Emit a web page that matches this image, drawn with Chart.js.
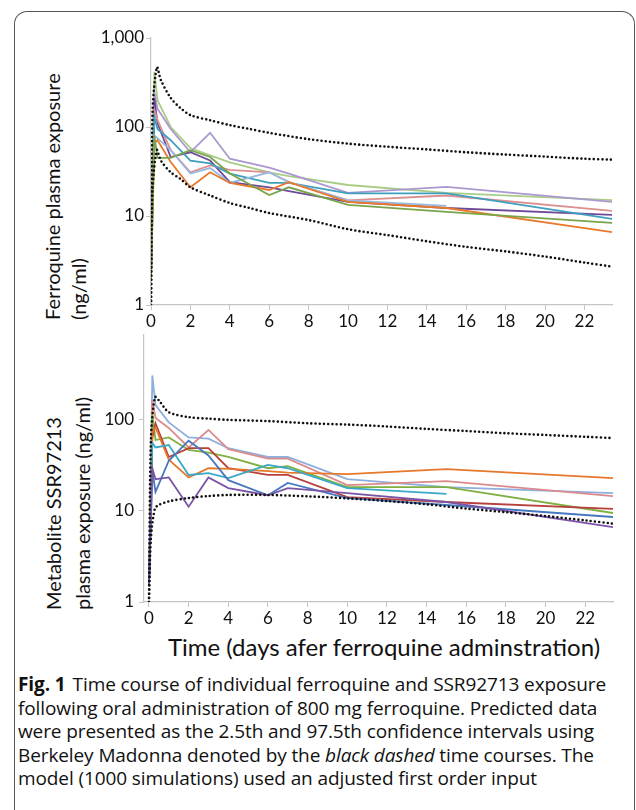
<!DOCTYPE html>
<html>
<head>
<meta charset="utf-8">
<script src="https://cdn.jsdelivr.net/npm/chart.js@4.4.1/dist/chart.umd.min.js"></script>
<style>
    body { margin: 0; width: 636px; height: 810px; overflow: hidden; background: #fff; font-family: Lato, sans-serif; color: #111; }
    #frame { position: absolute; left: 14px; top: 11px; width: 619px; height: 830px; border: 1.5px solid #555; border-bottom: none; border-radius: 13px 13px 0 0; }
    .cv { position: absolute; left: 0; }
    .ytitle { position: absolute; writing-mode: vertical-rl; transform: rotate(180deg); font-size: 20px; text-align: start; white-space: nowrap; }
    #xtitle { position: absolute; left: 0; width: 768px; top: 632px; text-align: center; font-size: 24px; white-space: nowrap; }
    #caption { position: absolute; left: 18px; top: 673px; font-family: "Open Sans", sans-serif; font-size: 19px; line-height: 23.5px; white-space: nowrap; letter-spacing: -0.1px; }
    #caption b { font-weight: 700; margin-right: 7px; }
</style>
</head>
<body>
<div id="frame"></div>

<div class="ytitle" style="left:39px; top:40px; height:280px; line-height:26px;">Ferroquine plasma exposure<br>(ng/ml)</div>
<div class="ytitle" style="left:39px; top:330px; height:280px; line-height:29px;">Metabolite SSR97213<br>plasma exposure (ng/ml)</div>

<canvas id="topChart" class="cv" style="top:0;" width="636" height="330"></canvas>
<canvas id="bottomChart" class="cv" style="top:310px;" width="636" height="320"></canvas>

<div id="xtitle">Time (days afer ferroquine adminstration)</div>
<div id="caption">
    <b>Fig. 1</b>Time course of individual ferroquine and SSR92713 exposure<br>
    following oral administration of 800 mg ferroquine. Predicted data<br>
    were presented as the 2.5th and 97.5th confidence intervals using<br>
    Berkeley Madonna denoted by the <i>black dashed</i> time courses. The<br>
    model (1000 simulations) used an adjusted first order input
</div>

<script>
// sampling times (days) of the individual profiles
const DAYS = [0, 0.17, 0.33, 1, 2, 3, 4, 6, 7, 10, 15, 23.4];

// ferroquine, individual patients (ng/ml)
const fqLightGreen = [6, 415, 200, 100, 58, 48, 40, 31, 28, 22.3, 18.2, 15.1];
const fqLavender   = [2.5, 246, 160, 95, 52, 86, 44, 35, 30, 18.2, 21.2, 14.4];
const fqPurple     = [2, 210, 110, 46, 52, 42, 24, 21, 19, 14.4, 12.3, 10.3];
const fqSalmon     = [2, 155, 120, 55, 31, 37, 33, 31, 24, 15, 17, 11.4];
const fqTeal       = [2, 130, 95, 71, 42, 39, 30, 23.5, 23.5, 18, 18, 9.3];
const fqLightBlue  = [2, 80, 75, 55, 30, 34.6, 23.5, 31, 24, 15, 13, null];
const fqOrange     = [2, 66, 71, 40.5, 21, 31, 23.5, 19.6, 24, 14.4, 12.3, 6.6];
const fqGreen      = [2, 80, 45, 45, 55, 46, 30, 17.2, 21, 13.3, 11.1, 8.35];

// metabolite SSR97213, individual patients (ng/ml)
const mLightBlue = [1.5, 300, 142, 92, 63, 61, 48, 38.5, 38.5, 22, 18, 15.5];
const mSalmon    = [1.5, 161, 103, 80, 49, 76, 47, 37, 37, 19, 21, 14.4];
const mGreen     = [1.5, 116, 59, 63, 46, 43, 38.5, 29, 30.6, 18, 18, 9.4];
const mRed       = [1.5, 62, 90, 38.5, 48, 48, 29, 24.5, 24.5, 14, 12.4, 10.4];
const mOrange    = [1.5, 72, 81, 36, 23, 29, 28.5, 27, 26, 25, 28.4, 22.6];
const mTeal      = [1.5, 55, 49, 52, 24.5, 25.6, 22.6, 31.5, 29, 17.6, 15.2, null];
const mBlue      = [1.5, 27.6, 16, 35, 58, 40, 21.5, 14.7, 20, 13.7, 11.5, 8.5];
const mPurple    = [1.5, 29, 22, 23, 11, 23, 17.6, 14.7, 17.6, 15.5, 12.4, 6.6];

// Berkeley Madonna 2.5th / 97.5th percentile curves
const ciDaysTop = [0, 0.08, 0.3, 0.5, 1, 1.5, 2, 3, 4, 5, 6, 8, 10, 12, 14, 16, 18, 20, 22, 23.4];
const fqUpper   = [1, 150, 470, 337, 212, 163, 136, 119, 105, 95, 86, 73, 65, 60, 56, 52, 49, 46.5, 44, 43];
const fqLower   = [1, 20, 55, 42, 31, 26, 21, 17, 14, 12.3, 10.8, 9.0, 7.1, 6.1, 5.2, 4.5, 4.0, 3.5, 3.0, 2.7];

const ciDaysBottom = [0, 0.1, 0.3, 0.5, 1, 2, 3, 4, 6, 8, 10, 12, 14, 16, 18, 20, 22, 23.4];
const mUpper       = [1, 60, 174, 160, 119, 105, 101, 98, 95, 90, 87, 83, 78, 74, 70, 67, 64, 62];
const mLower       = [1, 5, 10.5, 11.5, 12.6, 13.7, 14.4, 14.8, 14.8, 14.3, 13.6, 12.7, 11.7, 10.5, 9.6, 8.7, 7.8, 7.2];

// axis ticks
const X_TICKS = [0, 2, 4, 6, 8, 10, 12, 14, 16, 18, 20, 22];
const Y_TICKS_TOP = [1, 10, 100, 1000];
const Y_TICKS_BOTTOM = [1, 10, 100];

const toPoints = (xs, ys) => xs.map((x, i) => ({ x: x, y: ys[i] }));

function patient(values, color) {
    return {
        data: toPoints(DAYS, values),
        borderColor: color,
        borderWidth: 1.8,
        pointRadius: 0,
        tension: 0
    };
}

function dotted(xs, values) {
    return {
        data: toPoints(xs, values),
        borderColor: '#111',
        borderWidth: 2.6,
        borderDash: [0, 4.2],
        borderCapStyle: 'round',
        pointRadius: 0,
        tension: 0.3
    };
}

function makeOptions(o) {
    const axisGrey = '#c4c4c4';
    return {
        responsive: false,
        animation: false,
        layout: { padding: { left: 0, right: o.padRight, top: o.padTop, bottom: 0 } },
        plugins: { legend: { display: false }, tooltip: { enabled: false } },
        scales: {
            x: {
                type: 'linear',
                min: o.xMin,
                max: 23.4,
                afterBuildTicks: (axis) => { axis.ticks = X_TICKS.map(v => ({ value: v })); },
                afterFit: (axis) => { axis.height = o.xHeight; },
                border: { display: true, color: axisGrey, width: 1.2 },
                grid: { drawOnChartArea: false, drawTicks: true, tickLength: 5, color: axisGrey },
                ticks: { color: '#111', font: { family: 'Lato', size: 17 }, padding: 1, maxRotation: 0, autoSkip: false }
            },
            y: {
                type: 'logarithmic',
                min: 1,
                max: o.yMax,
                afterBuildTicks: (axis) => { axis.ticks = o.yTicks.map(v => ({ value: v, major: true })); },
                afterFit: (axis) => { axis.width = o.yWidth; },
                border: { display: true, color: axisGrey, width: 1.2 },
                grid: { drawOnChartArea: false, drawTicks: true, tickLength: 5, color: axisGrey },
                ticks: {
                    color: '#111',
                    font: { family: 'Lato', size: 17 },
                    padding: o.yPad,
                    callback: (v) => Number(v).toLocaleString('en-US')
                }
            }
        }
    };
}

new Chart(document.getElementById('topChart'), {
    type: 'line',
    data: {
        datasets: [
            dotted(ciDaysTop, fqUpper),
            dotted(ciDaysTop, fqLower),
            patient(fqGreen, '#79a54a'),
            patient(fqOrange, '#e9792a'),
            patient(fqLightBlue, '#97b8e0'),
            patient(fqTeal, '#3f9fbf'),
            patient(fqSalmon, '#dc8f8f'),
            patient(fqPurple, '#6f4a99'),
            patient(fqLavender, '#ab98cf'),
            patient(fqLightGreen, '#a9cd86')
        ]
    },
    options: makeOptions({ padRight: 24, padTop: 38, xMin: 0, xHeight: 25, yWidth: 151, yMax: 1000, yTicks: Y_TICKS_TOP, yPad: 2 })
});

new Chart(document.getElementById('bottomChart'), {
    type: 'line',
    data: {
        datasets: [
            dotted(ciDaysBottom, mUpper),
            dotted(ciDaysBottom, mLower),
            patient(mPurple, '#7a55a6'),
            patient(mBlue, '#4777bf'),
            patient(mTeal, '#3aa8c8'),
            patient(mOrange, '#e6782c'),
            patient(mRed, '#b8403c'),
            patient(mGreen, '#7fb041'),
            patient(mSalmon, '#db8b8b'),
            patient(mLightBlue, '#8eaedd')
        ]
    },
    options: makeOptions({ padRight: 23, padTop: 25, xMin: -0.25, xHeight: 28, yWidth: 144, yMax: 830, yTicks: Y_TICKS_BOTTOM, yPad: 5 })
});
</script>
</body>
</html>
